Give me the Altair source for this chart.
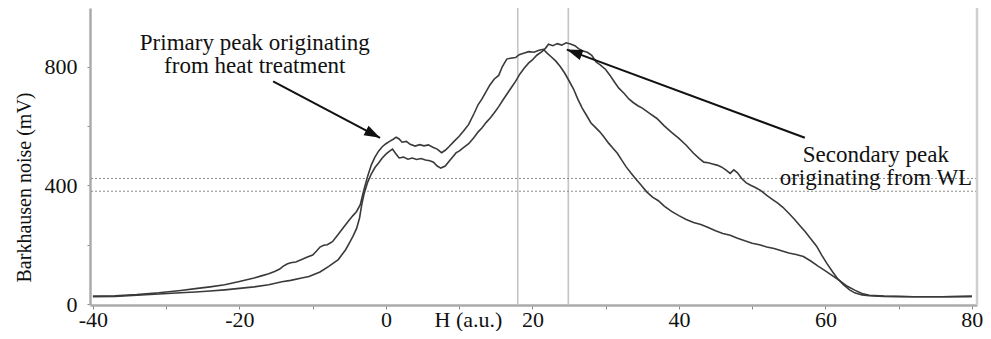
import math
import altair as alt
import pandas as pd

# ---------------- data ----------------
# Curve A: rises earlier, higher primary peak, secondary peak earlier
H_A = [-40, -37, -34, -31, -28, -26, -24, -22, -20, -18, -17, -16, -15.2, -14.5, -14, -13.5,
       -13, -12.3, -11.5, -10.8, -10, -9.5, -9, -8.5, -8, -7.3, -6.5, -5.8, -5, -4.5, -4, -3.5,
       -3, -2.5, -2, -1.5, -1, -0.5, 0, 0.5, 1, 1.4, 1.8, 2.2, 2.8, 3.3, 4, 4.6, 5.2, 5.8, 6.4,
       7, 7.6, 8.1, 8.6, 9.3, 10, 10.6, 11.3, 12, 12.6, 13.1, 13.6, 14.2, 14.8, 15.4, 15.9, 16.5,
       17, 17.7, 18.2, 18.8, 19.5, 20.2, 20.9, 21.5, 22, 22.6, 23.2, 23.8, 24.4, 25, 25.6, 26.2,
       26.8, 27.4, 28, 28.6, 29.2, 29.8, 30.4, 31, 31.6, 32.2, 32.8, 33.4, 34, 34.8, 35.6, 36.4,
       37.2, 38, 39, 40, 41, 42, 43, 44, 45, 46, 47, 48, 49, 50, 51, 52, 53, 54, 55, 56, 57, 58,
       59, 60, 61, 62, 63, 64, 65, 66, 68, 72, 76, 80]
V_A = [27, 28, 32, 38, 46, 52, 58, 65, 76, 88, 95, 102, 110, 118, 128, 135,
       139, 142, 150, 158, 165, 178, 192, 198, 200, 210, 235, 258, 283, 298, 312, 335,
       385, 430, 468, 495, 515, 530, 540, 548, 555, 562, 556, 545, 548, 538, 532, 537, 533, 536, 528,
       522, 510, 518, 530, 548, 565, 583, 605, 640, 672, 690, 712, 738, 758, 770, 800, 825,
       828, 830, 840, 845, 850, 848, 855, 858, 845, 832, 818, 800, 778, 752, 725, 690,
       660, 635, 610, 595, 580, 562, 542, 525, 508, 485, 462, 443, 425, 402, 378, 360,
       348, 330, 312, 298, 285, 275, 268, 258, 247, 238, 232, 222, 213, 205, 200, 192, 187, 180, 172, 167, 160, 145,
       128, 112, 95, 78, 60, 47, 36, 30, 27, 25, 25, 26]

# Curve B: rises later, lower primary peak, secondary peak later
H_B = [-40, -37, -34, -31, -28, -26, -24, -22, -20, -18, -16, -14.2, -13, -11.5, -10.5, -9,
       -7.8, -6.5, -5.5, -5, -4.5, -4, -3.6, -3.3, -3, -2.5, -2, -1.5, -1, -0.5, 0, 0.5, 0.9,
       1.3, 1.8, 2.4, 3, 3.6, 4.2, 4.8, 5.4, 6, 6.5, 7, 7.5, 8.1, 8.6, 9.2, 9.6, 10, 10.5, 11.3,
       12, 12.6, 13.1, 13.7, 14.3, 14.9, 15.4, 16, 16.6, 17.2, 17.7, 18.3, 18.9, 19.5, 20, 20.6,
       21.3, 21.8, 22.2, 22.8, 23.4, 24, 24.6, 25.2, 25.8, 26.3, 26.9, 27.5, 28.1, 28.7, 29.3,
       30, 30.6, 31.2, 31.8, 32.5, 33.2, 33.8, 34.4, 35, 36, 37, 38, 39, 40, 41, 42, 42.8, 43.4,
       44, 44.6, 45.2, 45.8, 46.4, 47, 47.5, 48, 48.6, 49.2, 49.8, 50.5, 51.2, 52, 52.8, 53.5,
       54.2, 55, 55.8, 56.5, 57.2, 58, 58.8, 59.5, 60.2, 61, 61.7, 62.5, 63.3, 64, 65, 66, 68, 72,
       76, 80]
V_B = [25, 26, 30, 34, 38, 41, 44, 48, 53, 58, 65, 75, 80, 88, 93, 108,
       127, 150, 183, 205, 228, 255, 290, 335, 370, 410, 438, 460, 475, 492, 505, 515, 522,
       508, 492, 495, 488, 492, 487, 490, 485, 483, 478, 465, 458, 465, 480, 498, 510, 515, 525, 540,
       560, 580, 593, 612, 628, 648, 665, 688, 710, 732, 750, 775, 795, 812, 822, 838,
       850, 862, 875, 870, 877, 872, 880, 876, 870, 860, 852, 848, 838, 815, 805,
       790, 770, 748, 727, 710, 690, 678, 668, 660, 642, 625, 600, 578, 558, 535, 508, 490, 478,
       476, 472, 468, 462, 452, 440, 452, 442, 422, 408, 400, 392, 382, 366, 352, 340,
       326, 306, 285, 265, 245, 220, 195, 165, 137, 108, 85, 65, 48, 38, 31, 28, 26, 25,
       25, 26]

X_DOMAIN = [-40.4, 80.7]
Y_DOMAIN = [-3, 997]
X_TICKS = list(range(-40, 81, 5))
Y_TICKS = list(range(0, 951, 50))
V_LINES = [18.0, 24.9]
H_LINES = [423, 380]

ANN_TEXT = ["Primary peak originating", "from heat treatment",
            "Secondary peak", "originating  from WL"]
ANN_H = [-17.9, -17.9, 66.9, 66.9]
ANN_V = [855, 778, 477, 400]

ARROW_H = [-15.4, 57.2]
ARROW_V = [750, 560]
ARROW_H2 = [-0.8, 24.7]
ARROW_V2 = [560, 857]

W, HT = 887, 297
FONT = "Liberation Serif"

# ---------------- frames ----------------
curves = pd.concat([
    pd.DataFrame({"H": H_A, "V": V_A, "curve": "A", "idx": range(len(H_A))}),
    pd.DataFrame({"H": H_B, "V": V_B, "curve": "B", "idx": range(len(H_B))}),
])

px_x = W / (X_DOMAIN[1] - X_DOMAIN[0])
px_y = HT / (Y_DOMAIN[1] - Y_DOMAIN[0])
angles = []
for h1, v1, h2, v2 in zip(ARROW_H, ARROW_V, ARROW_H2, ARROW_V2):
    dx = (h2 - h1) * px_x
    dy = -(v2 - v1) * px_y
    angles.append(math.degrees(math.atan2(dx, -dy)) % 360)

arrows = pd.DataFrame({"H": ARROW_H, "V": ARROW_V, "H2": ARROW_H2, "V2": ARROW_V2})
heads = pd.DataFrame({"H": ARROW_H2, "V": ARROW_V2, "angle": angles})
ann = pd.DataFrame({"H": ANN_H, "V": ANN_V, "t": ANN_TEXT})

xs = alt.Scale(domain=X_DOMAIN, nice=False, zero=False)
ys = alt.Scale(domain=Y_DOMAIN, nice=False, zero=False)

x_axis = alt.Axis(values=X_TICKS,
                  labelExpr="datum.value % 20 === 0 ? toString(datum.value) : ''",
                  title="H (a.u.)", titleX=378, titleY=21, titleBaseline="alphabetic",
                  titleAlign="center", titleFontSize=22, grid=False, labelFlush=False,
                  labelOverlap=False, labelBaseline="alphabetic", labelPadding=17, tickSize=4)
y_axis = alt.Axis(values=Y_TICKS,
                  labelExpr="datum.value % 400 === 0 ? toString(datum.value) : ''",
                  title="Barkhausen noise (mV)", titleX=-66, titleY=179, titleAngle=270,
                  titleBaseline="middle", titleAlign="center", titleFontSize=20, grid=False,
                  labelFlush=False, labelOverlap=False, labelPadding=10, tickSize=3,
                  labelBaseline="middle")

hrule = alt.Chart(pd.DataFrame({"V": H_LINES})).mark_rule(
    color="#8c8c8c", strokeWidth=1, strokeDash=[2, 2]).encode(
    y=alt.Y("V:Q", scale=ys, axis=y_axis))
vrule = alt.Chart(pd.DataFrame({"H": V_LINES})).mark_rule(
    color="#c4c4c4", strokeWidth=1.6).encode(x=alt.X("H:Q", scale=xs, axis=x_axis))
border = alt.Chart(pd.DataFrame({"H": [X_DOMAIN[1]]})).mark_rule(
    color="#cfcfcf", strokeWidth=2.5).encode(x=alt.X("H:Q", scale=xs))

lines = alt.Chart(curves).mark_line(color="#3a3a3a", strokeWidth=1.6).encode(
    x=alt.X("H:Q", scale=xs), y=alt.Y("V:Q", scale=ys),
    detail="curve:N", order="idx:Q")

arrow_lines = alt.Chart(arrows).mark_rule(color="#111111", strokeWidth=2).encode(
    x=alt.X("H:Q", scale=xs), y=alt.Y("V:Q", scale=ys), x2="H2:Q", y2="V2:Q")
arrow_heads = alt.Chart(heads).mark_point(
    shape="M0,0 L0.34,1 L-0.34,1 Z", filled=True, size=1000, color="#111111",
    opacity=1, strokeWidth=0).encode(
    x=alt.X("H:Q", scale=xs), y=alt.Y("V:Q", scale=ys),
    angle=alt.Angle("angle:Q", scale=None))

texts = alt.Chart(ann).mark_text(font=FONT, fontSize=23, align="center",
                                 baseline="alphabetic", color="#111111").encode(
    x=alt.X("H:Q", scale=xs), y=alt.Y("V:Q", scale=ys), text="t:N")

chart = alt.layer(vrule, hrule, border, lines, arrow_lines, arrow_heads, texts).properties(
    width=W, height=HT, autosize="none",
    padding={"left": 82, "top": 0, "right": 6, "bottom": 26},
).configure_view(stroke=None).configure_axis(
    labelFont=FONT, labelFontSize=22, labelColor="#111111",
    titleFont=FONT, titleFontWeight="normal", titleColor="#111111",
    domainColor="#ababab", domainWidth=2.5, tickColor="#8a8a8a", tickWidth=1,
)

chart.save("out.html", embed_options={"renderer": "svg", "actions": False})
